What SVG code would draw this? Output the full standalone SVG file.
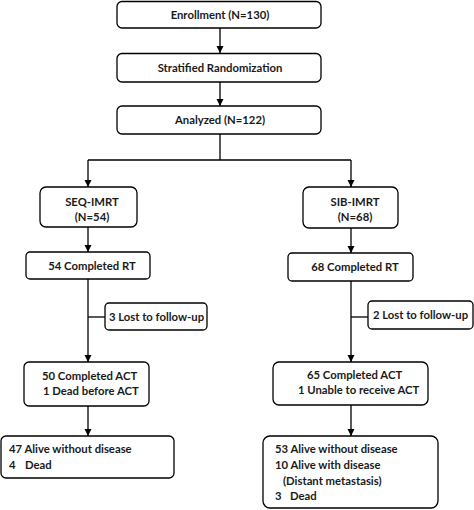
<svg xmlns="http://www.w3.org/2000/svg" width="474" height="510" viewBox="0 0 474 510">
<defs>
<marker id="ah" markerWidth="8" markerHeight="8" refX="7" refY="4" orient="auto" markerUnits="userSpaceOnUse">
<path d="M0,0.5 L7,4 L0,7.5 Z" fill="#000"/>
</marker>
<style>
.b{fill:#fff;stroke:#000;stroke-width:1.3}
.t{font-family:Lato,"Liberation Sans",sans-serif;font-size:11.3px;font-weight:bold;fill:#1a1a1a}
.c{text-anchor:middle}
.l{fill:none;stroke:#000;stroke-width:1.3}
</style>
</defs>
<rect width="474" height="510" fill="#fff"/>
<g id="connectors">
<line class="l" x1="220" y1="28" x2="220" y2="53" marker-end="url(#ah)"/>
<line class="l" x1="220" y1="82" x2="220" y2="106" marker-end="url(#ah)"/>
<polyline class="l" points="220,134 220,160"/>
<polyline class="l" points="88,160 351,160"/>
<line class="l" x1="88" y1="160" x2="88" y2="187" marker-end="url(#ah)"/>
<line class="l" x1="351" y1="160" x2="351" y2="187" marker-end="url(#ah)"/>
<line class="l" x1="88" y1="227" x2="88" y2="252" marker-end="url(#ah)"/>
<line class="l" x1="351" y1="228" x2="351" y2="253" marker-end="url(#ah)"/>
<line class="l" x1="88" y1="279" x2="88" y2="362" marker-end="url(#ah)"/>
<line class="l" x1="88" y1="317" x2="105" y2="317"/>
<line class="l" x1="351" y1="281" x2="351" y2="362" marker-end="url(#ah)"/>
<line class="l" x1="351" y1="317" x2="368" y2="317"/>
<line class="l" x1="88" y1="406" x2="88" y2="436" marker-end="url(#ah)"/>
<line class="l" x1="351" y1="405" x2="351" y2="436" marker-end="url(#ah)"/>
</g>
<g id="enrollment"><rect class="b" x="117" y="1.5" width="204" height="26.5" rx="5"/><text class="t c" x="220" y="19">Enrollment (N=130)</text></g>
<g id="randomization"><rect class="b" x="117" y="53.5" width="204" height="28.5" rx="5"/><text class="t c" x="220" y="71.5">Stratified Randomization</text></g>
<g id="analyzed"><rect class="b" x="117" y="106" width="204" height="28" rx="5"/><text class="t c" x="220" y="123.5">Analyzed (N=122)</text></g>
<g id="seq"><rect class="b" x="40" y="187" width="97" height="40" rx="6"/><text class="t c" x="92" y="205.5">SEQ-IMRT</text><text class="t c" x="92" y="220.5">(N=54)</text></g>
<g id="sib"><rect class="b" x="303" y="187" width="95" height="41" rx="6"/><text class="t c" x="355" y="205.5">SIB-IMRT</text><text class="t c" x="355" y="220.5">(N=68)</text></g>
<g id="seq-rt"><rect class="b" x="26" y="252" width="124" height="27" rx="4"/><text class="t c" x="92" y="269.5">54 Completed RT</text></g>
<g id="sib-rt"><rect class="b" x="288" y="253" width="125" height="28" rx="4"/><text class="t c" x="355" y="271">68 Completed RT</text></g>
<g id="seq-lost"><rect class="b" x="105" y="303" width="102" height="27" rx="4"/><text class="t c" x="156.5" y="320.5">3 Lost to follow-up</text></g>
<g id="sib-lost"><rect class="b" x="368" y="301" width="105" height="28" rx="4"/><text class="t c" x="420.5" y="319">2 Lost to follow-up</text></g>
<g id="seq-act"><rect class="b" x="24" y="362" width="125" height="44" rx="5"/><text class="t" x="42" y="379.5">50  Completed ACT</text><text class="t" x="43" y="394.5">1 Dead before ACT</text></g>
<g id="sib-act"><rect class="b" x="273" y="362" width="155" height="43" rx="6"/><text class="t" x="307" y="378.5">65  Completed ACT</text><text class="t" x="298" y="393.5">1  Unable to receive ACT</text></g>
<g id="seq-out"><rect class="b" x="1" y="436" width="173" height="42" rx="5"/><text class="t" x="9" y="453">47 Alive without disease</text><text class="t" x="9" y="468.5">4</text><text class="t" x="25" y="468.5">Dead</text></g>
<g id="sib-out"><rect class="b" x="263" y="436" width="175" height="72" rx="7"/><text class="t" x="275" y="453">53 Alive without disease</text><text class="t" x="275" y="468.5">10 Alive with disease</text><text class="t" x="283" y="484.5">(Distant metastasis)</text><text class="t" x="275" y="500">3</text><text class="t" x="290" y="500">Dead</text></g>
</svg>
